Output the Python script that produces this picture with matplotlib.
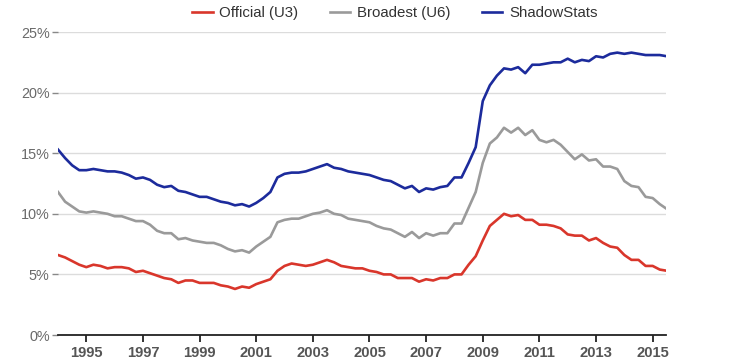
import numpy as np
import matplotlib
matplotlib.use('Agg')
import matplotlib.pyplot as plt

plt.rcParams['font.family'] = ['Liberation Sans', 'DejaVu Sans']

# quarterly readings (Jan, Apr, Jul, Oct), Jan 1994 -> Jul 2015
u3 = [6.6, 6.4, 6.1, 5.8,
      5.6, 5.8, 5.7, 5.5,
      5.6, 5.6, 5.5, 5.2,
      5.3, 5.1, 4.9, 4.7,
      4.6, 4.3, 4.5, 4.5,
      4.3, 4.3, 4.3, 4.1,
      4.0, 3.8, 4.0, 3.9,
      4.2, 4.4, 4.6, 5.3,
      5.7, 5.9, 5.8, 5.7,
      5.8, 6.0, 6.2, 6.0,
      5.7, 5.6, 5.5, 5.5,
      5.3, 5.2, 5.0, 5.0,
      4.7, 4.7, 4.7, 4.4,
      4.6, 4.5, 4.7, 4.7,
      5.0, 5.0, 5.8, 6.5,
      7.8, 9.0, 9.5, 10.0,
      9.8, 9.9, 9.5, 9.5,
      9.1, 9.1, 9.0, 8.8,
      8.3, 8.2, 8.2, 7.8,
      8.0, 7.6, 7.3, 7.2,
      6.6, 6.2, 6.2, 5.7,
      5.7, 5.4, 5.3]

u6 = [11.8, 11.0, 10.6, 10.2,
      10.1, 10.2, 10.1, 10.0,
      9.8, 9.8, 9.6, 9.4,
      9.4, 9.1, 8.6, 8.4,
      8.4, 7.9, 8.0, 7.8,
      7.7, 7.6, 7.6, 7.4,
      7.1, 6.9, 7.0, 6.8,
      7.3, 7.7, 8.1, 9.3,
      9.5, 9.6, 9.6, 9.8,
      10.0, 10.1, 10.3, 10.0,
      9.9, 9.6, 9.5, 9.4,
      9.3, 9.0, 8.8, 8.7,
      8.4, 8.1, 8.5, 8.0,
      8.4, 8.2, 8.4, 8.4,
      9.2, 9.2, 10.5, 11.8,
      14.2, 15.8, 16.3, 17.1,
      16.7, 17.1, 16.5, 16.9,
      16.1, 15.9, 16.1, 15.7,
      15.1, 14.5, 14.9, 14.4,
      14.5, 13.9, 13.9, 13.7,
      12.7, 12.3, 12.2, 11.4,
      11.3, 10.8, 10.4]

shadow = [15.3, 14.6, 14.0, 13.6,
          13.6, 13.7, 13.6, 13.5,
          13.5, 13.4, 13.2, 12.9,
          13.0, 12.8, 12.4, 12.2,
          12.3, 11.9, 11.8, 11.6,
          11.4, 11.4, 11.2, 11.0,
          10.9, 10.7, 10.8, 10.6,
          10.9, 11.3, 11.8, 13.0,
          13.3, 13.4, 13.4, 13.5,
          13.7, 13.9, 14.1, 13.8,
          13.7, 13.5, 13.4, 13.3,
          13.2, 13.0, 12.8, 12.7,
          12.4, 12.1, 12.3, 11.8,
          12.1, 12.0, 12.2, 12.3,
          13.0, 13.0, 14.2, 15.5,
          19.3, 20.6, 21.4, 22.0,
          21.9, 22.1, 21.6, 22.3,
          22.3, 22.4, 22.5, 22.5,
          22.8, 22.5, 22.7, 22.6,
          23.0, 22.9, 23.2, 23.3,
          23.2, 23.3, 23.2, 23.1,
          23.1, 23.1, 23.0]

labels = ['Official (U3)', 'Broadest (U6)', 'ShadowStats']
colors = ['#d9362b', '#9a9a9a', '#1c2b9c']
year_ticks = list(range(1995, 2016, 2))

x = 1994 + np.arange(len(u3)) / 4.0

fig = plt.figure(figsize=(7.38, 3.63), dpi=100)
ax = fig.add_axes([0.0786, 0.0771, 0.8238, 0.8347])

lines = []
for vals, c, lab in zip([u3, u6, shadow], colors, labels):
    ln, = ax.plot(x, vals, color=c, lw=1.9, label=lab, solid_joinstyle='round')
    lines.append(ln)

ax.set_xlim(1994, 2015.47)
ax.set_ylim(0, 25)
ax.set_yticks(range(0, 26, 5))
ax.set_yticklabels(['%d%%' % v for v in range(0, 26, 5)])
ax.set_xticks(year_ticks)
ax.set_xticklabels([str(y) for y in year_ticks], fontweight='bold')

ax.grid(axis='y', color='#dcdcdc', lw=1)
ax.set_axisbelow(True)
for s in ['top', 'right', 'left']:
    ax.spines[s].set_visible(False)
ax.spines['bottom'].set_color('#222222')
ax.spines['bottom'].set_linewidth(1.3)

ax.tick_params(axis='y', length=4, width=1, color='#888888', pad=2,
               labelsize=10.4, labelcolor='#6a6a6a')
ax.tick_params(axis='x', length=5, width=1.3, color='#222222', pad=3,
               labelsize=10.6, labelcolor='#555555')

fig.legend(handles=lines, loc='center', bbox_to_anchor=(395 / 738, 1 - 13 / 363),
           ncol=3, frameon=False, fontsize=10.8, handlelength=1.35,
           handletextpad=0.45, columnspacing=2.1, labelcolor='#333333')

fig.savefig('out.png', dpi=100)
